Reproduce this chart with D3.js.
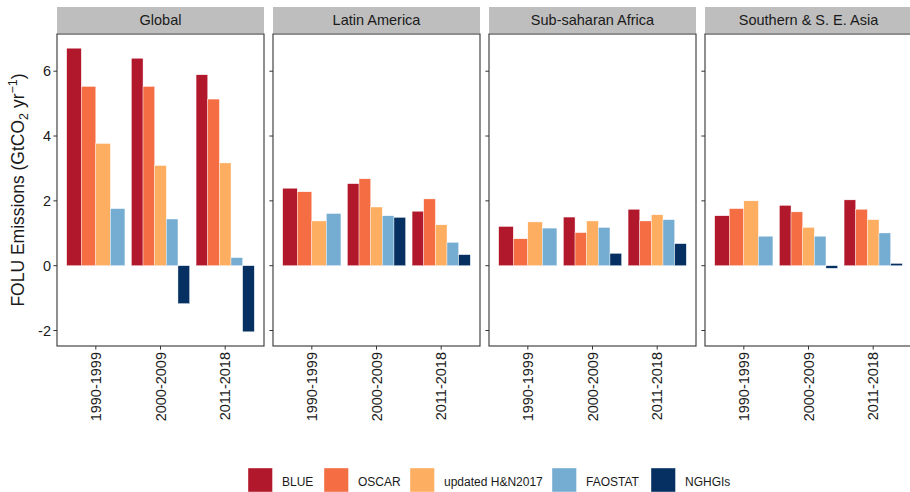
<!DOCTYPE html>
<html><head><meta charset="utf-8">
<script src="https://cdn.jsdelivr.net/npm/d3@7"></script>
<style>body{margin:0;background:#fff}svg{font-family:"Liberation Sans",Arial,sans-serif}</style>
</head><body>
<svg id="chart" width="910" height="492"></svg>
<script>
const regions = ["Global", "Latin America", "Sub-saharan Africa", "Southern & S. E. Asia"];
const periods = ["1990-1999", "2000-2009", "2011-2018"];
const seriesNames = ["BLUE", "OSCAR", "updated H&N2017", "FAOSTAT", "NGHGIs"];
const seriesColors = ["#B2182B", "#F46D43", "#FDAE61", "#74ADD1", "#053061"];
const yTicks = [-2, 0, 2, 4, 6];

// values[series][region][period]; null = no data
const BLUE    = [[6.71, 6.40, 5.89], [2.39, 2.53, 1.68], [1.21, 1.50, 1.74], [1.54, 1.86, 2.03]];
const OSCAR   = [[5.53, 5.53, 5.14], [2.28, 2.68, 2.06], [0.83, 1.02, 1.38], [1.76, 1.66, 1.74]];
const HN2017  = [[3.77, 3.09, 3.17], [1.38, 1.81, 1.26], [1.35, 1.38, 1.57], [2.00, 1.18, 1.42]];
const FAOSTAT = [[1.76, 1.44, 0.25], [1.61, 1.54, 0.72], [1.16, 1.18, 1.42], [0.91, 0.91, 1.01]];
const NGHGIs  = [[null, -1.17, -2.04], [null, 1.49, 0.34], [null, 0.38, 0.68], [null, -0.08, 0.07]];
const seriesValues = [BLUE, OSCAR, HN2017, FAOSTAT, NGHGIs];

const svg = d3.select("#chart");
const panelTop = 34, panelBottom = 346, stripTop = 7;
const panelW = 207, gap = 9, left0 = 57;

const all = seriesValues.flat(2).filter(v => v != null);
const ymin = Math.min(0, d3.min(all)), ymax = d3.max(all);
const ex = (ymax - ymin) * 0.05;
const y = d3.scaleLinear().domain([ymin - ex, ymax + ex]).range([panelBottom, panelTop]);

regions.forEach((reg, ri) => {
  const x0 = left0 + ri * (panelW + gap);
  const g = svg.append("g");
  g.append("rect").attr("x", x0).attr("y", stripTop).attr("width", panelW).attr("height", panelTop - stripTop - 1)
    .attr("fill", "#BEBEBE");
  g.append("text").attr("x", x0 + panelW / 2).attr("y", (stripTop + panelTop - 1) / 2).attr("dy", "0.36em")
    .attr("text-anchor", "middle").attr("font-size", 14.5).attr("fill", "#1a1a1a").text(reg);
  g.append("rect").attr("x", x0).attr("y", panelTop).attr("width", panelW).attr("height", panelBottom - panelTop)
    .attr("fill", "#fff");

  const x = d3.scalePoint().domain(periods).range([x0, x0 + panelW]).padding(0.6);
  const step = x.step();

  periods.forEach((p, pi) => {
    const present = seriesNames.map((s, si) => ({ s, si, v: seriesValues[si][ri][pi] })).filter(d => d.v != null);
    const inner = d3.scaleBand().domain(present.map(d => d.s))
      .range([x(p) - 0.45 * step, x(p) + 0.45 * step]).paddingInner(0).paddingOuter(0);
    g.selectAll(null).data(present).enter().append("rect")
      .attr("x", d => inner(d.s))
      .attr("width", inner.bandwidth())
      .attr("y", d => y(Math.max(0, d.v)))
      .attr("height", d => Math.abs(y(d.v) - y(0)))
      .attr("fill", d => seriesColors[d.si])
      .attr("stroke", "#fff").attr("stroke-width", 0.4);
  });

  g.append("rect").attr("x", x0).attr("y", panelTop).attr("width", panelW).attr("height", panelBottom - panelTop)
    .attr("fill", "none").attr("stroke", "#333").attr("stroke-width", 1.1);

  g.selectAll(null).data(yTicks).enter().append("line")
    .attr("x1", x0 - 3.6).attr("x2", x0).attr("y1", d => y(d)).attr("y2", d => y(d))
    .attr("stroke", "#333").attr("stroke-width", 1);
  if (ri === 0) {
    g.selectAll(null).data(yTicks).enter().append("text")
      .attr("x", x0 - 6).attr("y", d => y(d)).attr("dy", "0.36em").attr("text-anchor", "end")
      .attr("font-size", 14.5).attr("fill", "#1a1a1a").text(d => d);
  }
  g.selectAll(null).data(periods).enter().append("line")
    .attr("x1", d => x(d)).attr("x2", d => x(d)).attr("y1", panelBottom).attr("y2", panelBottom + 3.6)
    .attr("stroke", "#333").attr("stroke-width", 1);
  g.selectAll(null).data(periods).enter().append("text")
    .attr("transform", d => `translate(${x(d)},${panelBottom + 6}) rotate(-90)`)
    .attr("dy", "0.36em").attr("text-anchor", "end")
    .attr("font-size", 14.5).attr("fill", "#1a1a1a").text(d => d);
});

const yt = svg.append("text").attr("transform", `translate(18,${(panelTop + panelBottom) / 2}) rotate(-90)`)
  .attr("dy", "0.36em").attr("text-anchor", "middle").attr("font-size", 17.5).attr("fill", "#1a1a1a");
yt.append("tspan").text("FOLU Emissions (GtCO");
yt.append("tspan").attr("font-size", 12.5).attr("dy", "4").text("2");
yt.append("tspan").attr("dy", "-4").text(" yr");
yt.append("tspan").attr("font-size", 12.5).attr("dy", "-7").text("−1");
yt.append("tspan").attr("dy", "7").text(")");

const legX = [248, 324, 410, 552, 651];
seriesNames.forEach((s, i) => {
  svg.append("rect").attr("x", legX[i]).attr("y", 468).attr("width", 24.5).attr("height", 24)
    .attr("fill", seriesColors[i]).attr("stroke", "#fff").attr("stroke-width", 0.4);
  svg.append("text").attr("x", legX[i] + 34).attr("y", 481.5).attr("dy", "0.36em")
    .attr("font-size", 12).attr("fill", "#1a1a1a").text(s);
});
</script>
</body></html>
